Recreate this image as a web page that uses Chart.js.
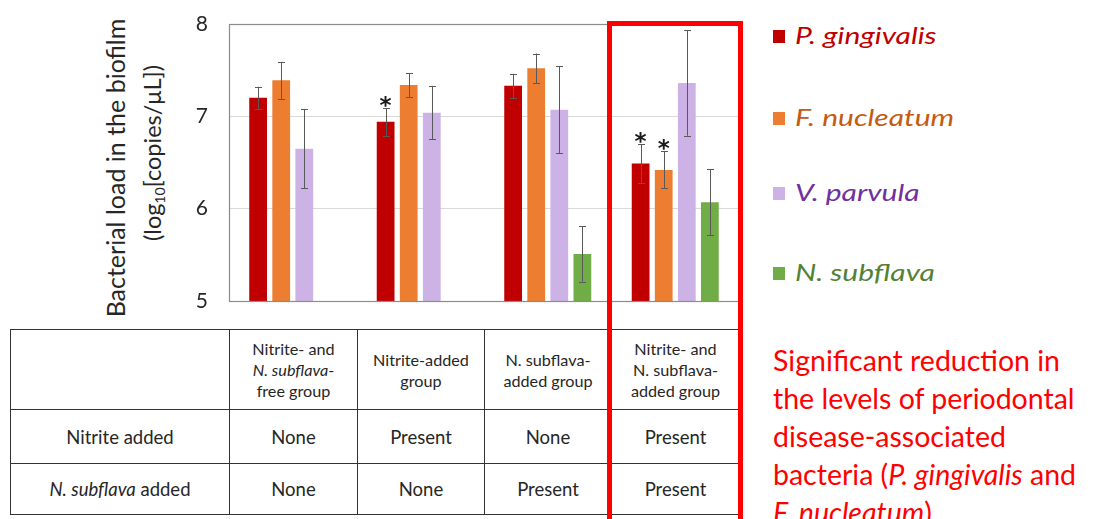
<!DOCTYPE html>
<html>
<head>
<meta charset="utf-8">
<script src="https://cdn.jsdelivr.net/npm/chart.js@4.4.1/dist/chart.umd.min.js"></script>
<style>
  html, body { margin: 0; padding: 0; background: #fff; }
  body { width: 1097px; height: 519px; overflow: hidden; position: relative; font-family: Lato, "Open Sans", sans-serif; color: #262626; }
  #chartBox { position: absolute; left: 0; top: 0; width: 760px; height: 320px; }
  .ytitle { position: absolute; white-space: nowrap; font-size: 25px; color: #262626; transform-origin: center center; }
  #yt2 { font-size: 23.5px; }
  .ytitle sub { font-size: 14px; vertical-align: -4px; line-height: 0; }
  #groupTable { position: absolute; left: 10px; top: 329px; border-collapse: collapse; table-layout: fixed; }
  #groupTable td { border: 1.6px solid #333; text-align: center; vertical-align: middle; padding: 0; color: #262626; }
  #groupTable tr.head td { height: 79px; font-size: 16.2px; line-height: 21px; }
  #groupTable tr.row1 td { height: 53px; font-size: 18.5px; }
  #groupTable tr.row2 td { height: 50px; font-size: 18.5px; }
  #legend { position: absolute; left: 773px; top: 0; }
  .legItem { position: absolute; left: 0; white-space: nowrap; font-style: italic; font-size: 24px; }
  .legItem span.sw { position: absolute; left: 0; width: 12px; height: 13px; }
  .legItem span.tx { position: absolute; left: 22px; line-height: 30px; transform: scaleX(1.25); transform-origin: left center; }
  #note { position: absolute; left: 773px; top: 341px; color: #ff0000; font-size: 28.5px; line-height: 38px; white-space: nowrap; }
  #highlight { position: absolute; left: 607px; top: 21px; width: 126px; height: 520px; border: 5px solid #ff0000; }
</style>
</head>
<body>
<div class="ytitle" id="yt1">Bacterial load in the biofilm</div>
<div class="ytitle" id="yt2">(log<sub>10</sub>[copies/μL])</div>
<div id="chartBox"><canvas id="c" width="760" height="320"></canvas></div>
<table id="groupTable"></table>
<div id="legend"></div>
<div id="note">Significant reduction in<br>the levels of periodontal<br>disease-associated<br>bacteria (<i>P. gingivalis</i> and<br><i>F. nucleatum</i>)</div>
<div id="highlight"></div>
<script>
// Experimental groups (x categories)
const groups = [
  'Nitrite- and N. subflava-free group',
  'Nitrite-added group',
  'N. subflava-added group',
  'Nitrite- and N. subflava-added group'
];
const groupHeaders = [
  'Nitrite- and<br><i>N. subflava</i>-<br>free group',
  'Nitrite-added<br>group',
  'N. subflava-<br>added group',
  'Nitrite- and<br>N. subflava-<br>added group'
];

// Bacterial load, log10 copies/µL (mean and error)
const pGingivalis    = [7.20, 6.94, 7.33, 6.49];
const pGingivalisErr = [0.12, 0.15, 0.13, 0.21];
const fNucleatum     = [7.39, 7.34, 7.52, 6.42];
const fNucleatumErr  = [0.20, 0.13, 0.16, 0.20];
const vParvula       = [6.65, 7.04, 7.07, 7.36];
const vParvulaErr    = [0.43, 0.29, 0.47, 0.57];
const nSubflava      = [null, null, 5.51, 6.07];
const nSubflavaErr   = [null, null, 0.30, 0.36];

// Significant differences marked with an asterisk
const pGingivalisSig = [false, true, false, true];
const fNucleatumSig  = [false, false, false, true];

// Axis ticks
const yTicks = [5, 6, 7, 8];

// Conditions table
const rowLabels = ['Nitrite added', '<i>N. subflava</i> added'];
const nitriteAdded = ['None', 'Present', 'None', 'Present'];
const subflavaAdded = ['None', 'None', 'Present', 'Present'];

const seriesNames = ['P. gingivalis', 'F. nucleatum', 'V. parvula', 'N. subflava'];
const barColors = ['#c00000', '#ed7d31', '#cdb2e5', '#70ad47'];
const textColors = ['#c00000', '#c55a11', '#7030a0', '#548235'];

const errorBarPlugin = {
  id: 'errorBars',
  afterDatasetsDraw(chart) {
    const ctx = chart.ctx;
    const y = chart.scales.y;
    chart.data.datasets.forEach((ds, i) => {
      const meta = chart.getDatasetMeta(i);
      meta.data.forEach((bar, j) => {
        const v = ds.data[j];
        const e = ds.errors[j];
        if (v == null || e == null) return;
        const top = y.getPixelForValue(v + e);
        const bot = y.getPixelForValue(v - e);
        const x = Math.round(bar.x) + 0.5;
        ctx.save();
        ctx.strokeStyle = '#595959';
        ctx.lineWidth = 1;
        ctx.beginPath();
        ctx.moveTo(x, top); ctx.lineTo(x, bot);
        ctx.moveTo(x - 3.5, Math.round(top) + 0.5); ctx.lineTo(x + 3.5, Math.round(top) + 0.5);
        ctx.moveTo(x - 3.5, Math.round(bot) + 0.5); ctx.lineTo(x + 3.5, Math.round(bot) + 0.5);
        ctx.stroke();
        if (ds.sig && ds.sig[j]) {
          ctx.fillStyle = '#1a1a1a';
          ctx.font = 'bold 23px "DejaVu Sans"';
          ctx.textAlign = 'center';
          ctx.textBaseline = 'alphabetic';
          ctx.fillText('*', bar.x, top + 5);
        }
        ctx.restore();
      });
    });
  }
};

const plotFramePlugin = {
  id: 'plotFrame',
  afterDraw(chart) {
    const a = chart.chartArea;
    const ctx = chart.ctx;
    ctx.save();
    ctx.strokeStyle = '#8c8c8c';
    ctx.lineWidth = 1.2;
    ctx.strokeRect(Math.round(a.left) + 0.5, Math.round(a.top) + 0.5, Math.round(a.right - a.left), Math.round(a.bottom - a.top));
    ctx.restore();
  }
};

const makeSet = (k, data, errors, sig) => ({
  label: seriesNames[k], data, errors, sig,
  backgroundColor: barColors[k], borderWidth: 0,
  categoryPercentage: 0.724, barPercentage: 0.77
});

new Chart(document.getElementById('c'), {
  type: 'bar',
  data: {
    labels: groups,
    datasets: [
      makeSet(0, pGingivalis, pGingivalisErr, pGingivalisSig),
      makeSet(1, fNucleatum, fNucleatumErr, fNucleatumSig),
      makeSet(2, vParvula, vParvulaErr, null),
      makeSet(3, nSubflava, nSubflavaErr, null)
    ]
  },
  options: {
    responsive: false,
    animation: false,
    devicePixelRatio: 1,
    layout: { padding: { left: 0, top: 24, right: 21, bottom: 19 } },
    plugins: { legend: { display: false }, tooltip: { enabled: false } },
    scales: {
      x: { display: false },
      y: {
        min: 5, max: 8,
        afterFit(scale) { scale.width = 229; },
        afterBuildTicks(scale) { scale.ticks = yTicks.map(v => ({ value: v })); },
        ticks: { padding: 0, color: '#262626', font: { family: 'Lato', size: 21 } },
        grid: { drawTicks: true, tickLength: 21, tickColor: 'rgba(0,0,0,0)', color: '#d9d9d9', lineWidth: 1 },
        border: { display: false }
      }
    }
  },
  plugins: [errorBarPlugin, plotFramePlugin]
});

// Conditions table below the chart
const tbl = document.getElementById('groupTable');
const widths = [219, 128, 127, 127, 128];
let html = '<colgroup>' + widths.map(w => `<col style="width:${w}px">`).join('') + '</colgroup>';
html += '<tr class="head"><td></td>' + groupHeaders.map(h => `<td>${h}</td>`).join('') + '</tr>';
html += `<tr class="row1"><td>${rowLabels[0]}</td>` + nitriteAdded.map(v => `<td>${v}</td>`).join('') + '</tr>';
html += `<tr class="row2"><td>${rowLabels[1]}</td>` + subflavaAdded.map(v => `<td>${v}</td>`).join('') + '</tr>';
tbl.innerHTML = html;

// Legend
const legend = document.getElementById('legend');
const legendY = [35, 117, 192, 272];
seriesNames.forEach((n, k) => {
  const d = document.createElement('div');
  d.className = 'legItem';
  d.style.top = (legendY[k] - 15) + 'px';
  d.innerHTML = `<span class="sw" style="background:${barColors[k]};top:10px"></span><span class="tx" style="color:${textColors[k]}">${n}</span>`;
  legend.appendChild(d);
});

// Rotated y-axis title lines
function placeRotated(id, cx, cy) {
  const el = document.getElementById(id);
  const w = el.offsetWidth, h = el.offsetHeight;
  el.style.left = (cx - w / 2) + 'px';
  el.style.top = (cy - h / 2) + 'px';
  el.style.transform = 'rotate(-90deg)';
}
placeRotated('yt1', 115, 168);
placeRotated('yt2', 152, 153);
</script>
</body>
</html>
